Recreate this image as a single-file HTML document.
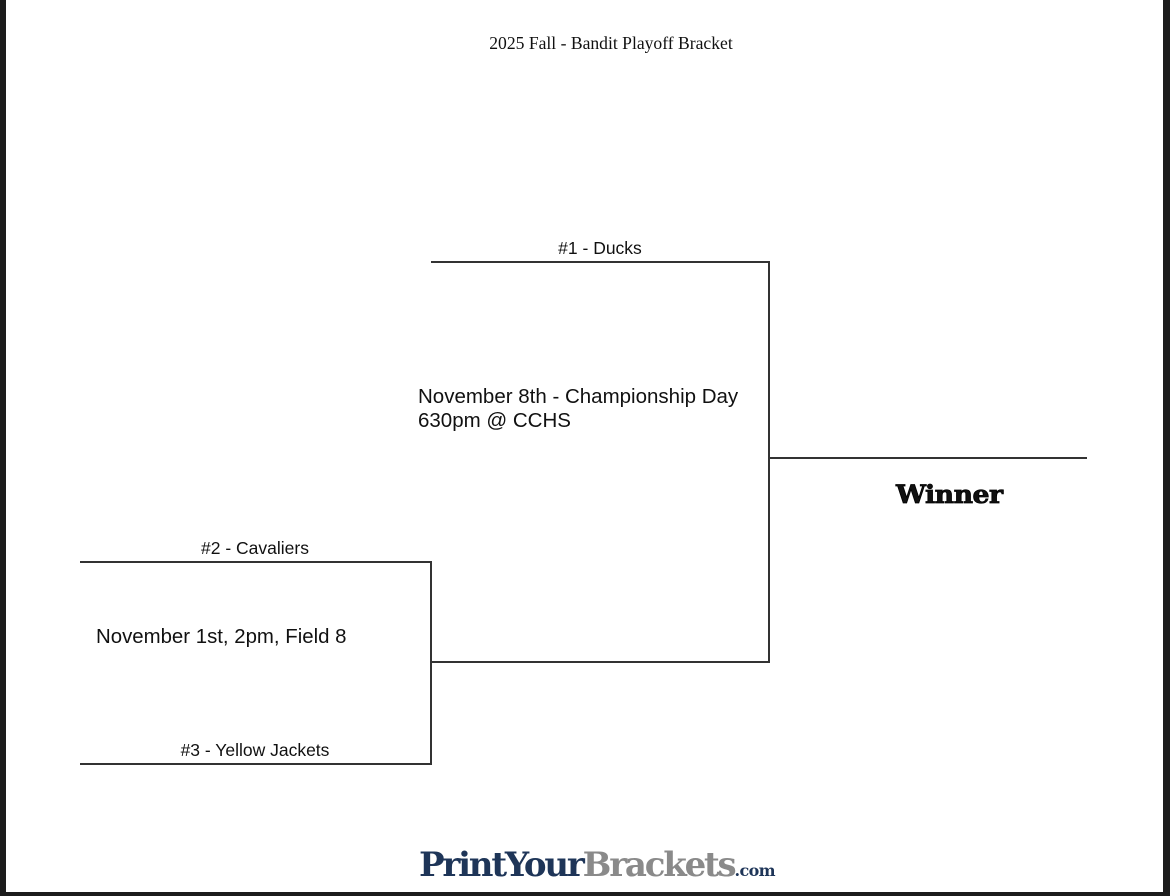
<!DOCTYPE html>
<html><head><meta charset="utf-8"><style>
body{margin:0;width:1170px;height:896px;position:relative;background:#1c1c1c;overflow:hidden;font-family:"Liberation Sans",sans-serif;}
.pg{position:absolute;left:6px;top:0;width:1157px;height:892px;background:#fff;}
.l{position:absolute;background:#333;}
.t{position:absolute;white-space:nowrap;color:#111;}
</style></head><body>
<div class="pg"></div>
<div class="t" style="left:0;width:1222px;text-align:center;top:33px;font-family:'Liberation Serif',serif;font-size:17.6px;">2025 Fall - Bandit Playoff Bracket</div>
<div class="l" style="left:431px;top:261px;width:339px;height:1.5px"></div>
<div class="l" style="left:768px;top:261px;width:1.5px;height:402px"></div>
<div class="l" style="left:431px;top:661px;width:339px;height:1.5px"></div>
<div class="l" style="left:769px;top:457px;width:318px;height:1.5px"></div>
<div class="l" style="left:80px;top:561px;width:351px;height:1.5px"></div>
<div class="l" style="left:430px;top:561px;width:1.5px;height:204px"></div>
<div class="l" style="left:80px;top:763px;width:351px;height:1.5px"></div>
<div class="t" style="left:431px;width:338px;text-align:center;top:238px;font-size:17.5px;">#1 - Ducks</div>
<div class="t" style="left:80px;width:350px;text-align:center;top:538px;font-size:17.5px;">#2 - Cavaliers</div>
<div class="t" style="left:80px;width:350px;text-align:center;top:740px;font-size:17.5px;">#3 - Yellow Jackets</div>
<div class="t" style="left:418px;top:385px;font-size:20.5px;line-height:24px;">November 8th - Championship Day<br>630pm @ CCHS</div>
<div class="t" style="left:96px;top:626px;font-size:20.4px;">November 1st, 2pm, Field 8</div>
<div class="t" style="left:896px;top:480px;font-size:25px;font-weight:900;font-family:'DejaVu Serif','Liberation Serif',serif;letter-spacing:-0.5px;-webkit-text-stroke:0.8px #000;transform:scaleX(1.07);transform-origin:left;">Winner</div>
<div class="t" style="left:419px;top:845px;font-family:'DejaVu Serif',serif;font-weight:bold;font-size:34px;letter-spacing:-2.2px;"><span style="color:#1e3558">PrintYour</span><span style="color:#8a8a8a">Brackets</span><span style="color:#1e3558;font-size:16px;letter-spacing:-0.6px">.com</span></div>
</body></html>
